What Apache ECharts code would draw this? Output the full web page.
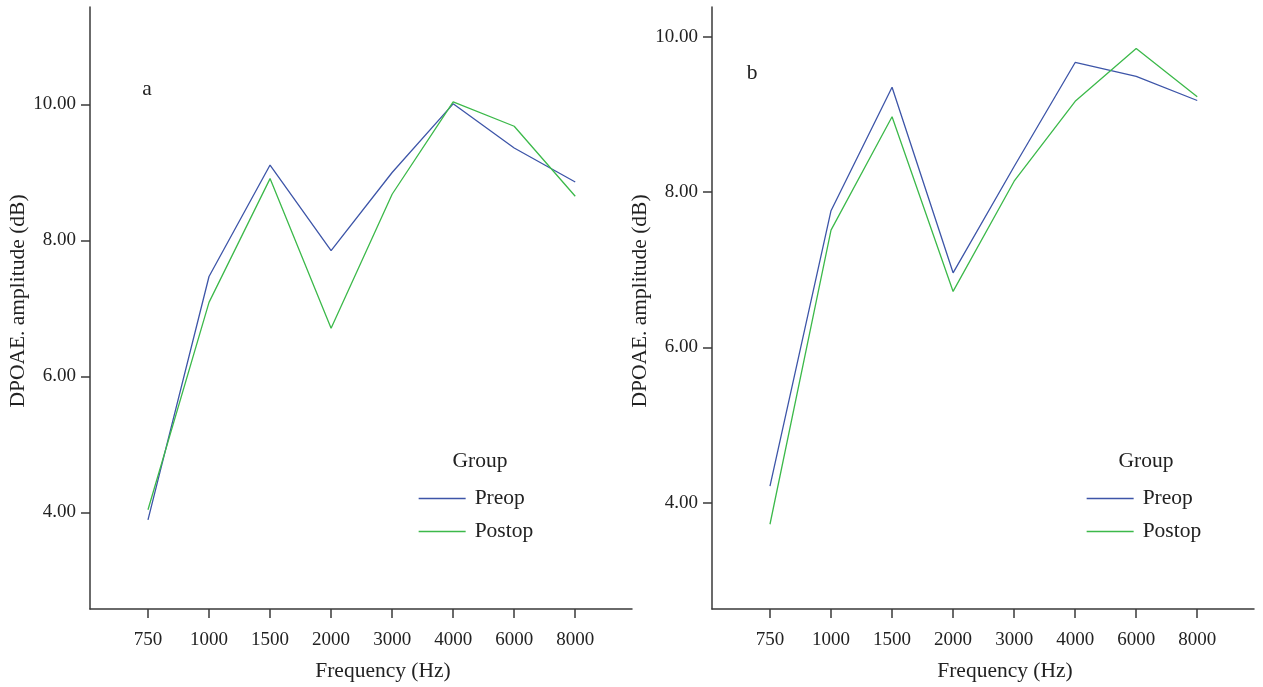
<!DOCTYPE html>
<html>
<head>
<meta charset="utf-8">
<script src="https://cdn.jsdelivr.net/npm/echarts@6/dist/echarts.min.js"></script>
<style>
html,body{margin:0;padding:0;background:#fff;}
#chart{width:1263px;height:687px;}
</style>
</head>
<body>
<div id="chart"></div>
<script>
var categories = ['750','1000','1500','2000','3000','4000','6000','8000'];
var preopA  = [3.89, 7.47, 9.11, 7.85, 9.00, 10.01, 9.36, 8.86];
var postopA = [4.04, 7.09, 8.91, 6.71, 8.68, 10.04, 9.68, 8.65];
var preopB  = [4.21, 7.76, 9.35, 6.96, 8.33, 9.67, 9.49, 9.18];
var postopB = [3.72, 7.51, 8.97, 6.72, 8.14, 9.17, 9.85, 9.23];
var yTicks = [4, 6, 8, 10];
var seriesNames = ['Preop', 'Postop'];
var panelLabels = ['a', 'b'];
var legendTitle = 'Group';

var FONT = '"Liberation Serif", "DejaVu Serif", serif';
var BLUE = '#3d55a8';
var GREEN = '#3cb94a';
var AX = '#3a3a3a';
var TXT = '#222';
var idx = categories.map(function(_, i){ return i; });

function pairs(arr){ return arr.map(function(v, i){ return [i, v]; }); }

function xAxis(gi){
  return {
    type: 'value', gridIndex: gi, min: -0.95, max: 7.93,
    splitLine: {show: false},
    axisLine: {onZero: false, lineStyle: {color: AX, width: 1.5}},
    axisTick: {show: true, length: 9, customValues: idx, lineStyle: {color: AX, width: 1.5}},
    axisLabel: {customValues: idx, margin: 22, color: TXT, fontFamily: FONT, fontSize: 19,
      formatter: function(v){ return categories[Math.round(v)]; }},
    name: 'Frequency (Hz)', nameLocation: 'middle', nameGap: 51,
    nameTextStyle: {color: TXT, fontFamily: FONT, fontSize: 21.5, padding: [0, 0, 0, 44]}
  };
}
function yAxis(gi, mn, mx){
  return {
    type: 'value', gridIndex: gi, min: mn, max: mx,
    splitLine: {show: false},
    axisLine: {show: true, onZero: false, lineStyle: {color: AX, width: 1.5}},
    axisTick: {show: true, length: 9, customValues: yTicks, lineStyle: {color: AX, width: 1.5}},
    axisLabel: {customValues: yTicks, margin: 14, color: TXT, fontFamily: FONT, fontSize: 19,
      formatter: function(v){ return v.toFixed(2); }},
    name: 'DPOAE. amplitude (dB)', nameLocation: 'middle', nameGap: 60,
    nameTextStyle: {color: TXT, fontFamily: FONT, fontSize: 21.5, padding: [0, 0, 0, 14]}
  };
}
function line(name, data, gi, color){
  return {
    type: 'line', name: name, xAxisIndex: gi, yAxisIndex: gi, data: pairs(data),
    symbol: 'none', lineStyle: {color: color, width: 1.3}, itemStyle: {color: color},
    animation: false
  };
}
function legend(left){
  return {
    data: seriesNames, orient: 'vertical', left: left, top: 487.5, padding: 0,
    itemWidth: 47, itemHeight: 20, itemGap: 11,
    itemStyle: {opacity: 0},
    lineStyle: {width: 1.3},
    textStyle: {fontFamily: FONT, fontSize: 21.5, lineHeight: 20, color: TXT, padding: [0, 0, 0, 4]},
    selectedMode: false
  };
}
function txt(x, y, s){
  return {type: 'text', x: x, y: y, style: {text: s, font: '21.5px ' + FONT, fill: TXT, align: 'center', verticalAlign: 'middle'}};
}

var chart = echarts.init(document.getElementById('chart'), null, {renderer: 'canvas'});
chart.setOption({
  backgroundColor: '#fff',
  animation: false,
  grid: [
    {left: 90, top: 7, width: 542, height: 605},
    {left: 712, top: 7, width: 542, height: 605}
  ],
  xAxis: [xAxis(0), xAxis(1)],
  yAxis: [yAxis(0, 2.58, 11.434), yAxis(1, 2.628, 10.385)],
  legend: [legend(418), legend(1086)],
  graphic: [
    txt(147, 89, panelLabels[0]),
    txt(752, 73, panelLabels[1]),
    txt(480, 461, legendTitle),
    txt(1146, 461, legendTitle)
  ],
  series: [
    line(seriesNames[0], preopA, 0, BLUE),
    line(seriesNames[1], postopA, 0, GREEN),
    line(seriesNames[0], preopB, 1, BLUE),
    line(seriesNames[1], postopB, 1, GREEN)
  ]
});
</script>
</body>
</html>
